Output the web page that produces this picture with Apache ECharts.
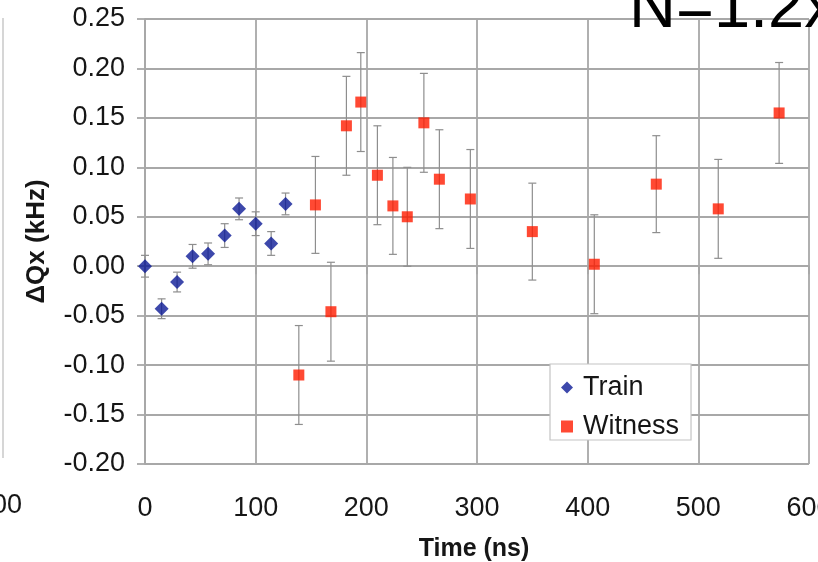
<!DOCTYPE html>
<html>
<head>
<meta charset="utf-8">
<script src="https://cdn.jsdelivr.net/npm/echarts@6/dist/echarts.min.js"></script>
<style>
  html, body { margin: 0; padding: 0; background: #ffffff; }
  #chart { width: 818px; height: 562px; }
</style>
</head>
<body>
<div id="chart"></div>
<script>
// Tune shift measurements: bunch-train and witness bunch
const trainTime  = [0, 15, 29, 43, 57, 72, 85, 100, 114, 127];
const trainShift = [0.000, -0.043, -0.016, 0.010, 0.0125, 0.031, 0.058, 0.043, 0.023, 0.063];
const trainErr   = [0.011, 0.010, 0.010, 0.012, 0.011, 0.012, 0.011, 0.012, 0.012, 0.011];

const witnessTime  = [139, 154, 168, 182, 195, 210, 224, 237, 252, 266, 294, 350, 406, 462, 518, 573];
const witnessShift = [-0.110, 0.062, -0.046, 0.142, 0.166, 0.092, 0.061, 0.050, 0.145, 0.088, 0.068, 0.035, 0.002, 0.083, 0.058, 0.155];
const witnessErr   = [0.050, 0.049, 0.050, 0.050, 0.050, 0.050, 0.049, 0.050, 0.050, 0.050, 0.050, 0.049, 0.050, 0.049, 0.050, 0.051];

const timeTicks = [0, 100, 200, 300, 400, 500, 600];
const shiftTicks = [-0.20, -0.15, -0.10, -0.05, 0.00, 0.05, 0.10, 0.15, 0.20, 0.25];

const FONT = '"Liberation Sans", Arial, sans-serif';
const GRID_COLOR = '#a8a8a8';
const TEXT_COLOR = '#161616';

function points(xs, ys) { return xs.map((x, i) => [x, ys[i]]); }
function bars(xs, ys, es) { return xs.map((x, i) => [x, ys[i] - es[i], ys[i] + es[i]]); }

// vertical error bar with short caps
function renderErrorBar(params, api) {
  const lo = api.coord([api.value(0), api.value(1)]);
  const hi = api.coord([api.value(0), api.value(2)]);
  const half = 4;
  const style = { stroke: '#8e8e8e', lineWidth: 1.2 };
  return {
    type: 'group',
    children: [
      { type: 'line', shape: { x1: lo[0], y1: lo[1], x2: hi[0], y2: hi[1] }, style },
      { type: 'line', shape: { x1: lo[0] - half, y1: lo[1], x2: lo[0] + half, y2: lo[1] }, style },
      { type: 'line', shape: { x1: hi[0] - half, y1: hi[1], x2: hi[0] + half, y2: hi[1] }, style }
    ]
  };
}

const chart = echarts.init(document.getElementById('chart'), null, { renderer: 'canvas' });

chart.setOption({
  animation: false,
  backgroundColor: '#ffffff',
  grid: { left: 145, right: 9, top: 19, bottom: 98, containLabel: false, outerBoundsMode: 'none' },
  xAxis: {
    type: 'value',
    min: timeTicks[0],
    max: timeTicks[timeTicks.length - 1],
    interval: timeTicks[1] - timeTicks[0],
    name: 'Time (ns)',
    nameLocation: 'middle',
    nameGap: 73,
    nameTextStyle: { fontFamily: FONT, fontSize: 25, fontWeight: 'bold', color: TEXT_COLOR, padding: [0, 6, 0, 0] },
    axisLine: { show: true, lineStyle: { color: GRID_COLOR, width: 1.8 } },
    axisTick: { show: true, inside: false, length: 8, lineStyle: { color: GRID_COLOR, width: 1.8 } },
    axisLabel: { fontFamily: FONT, fontSize: 27, color: TEXT_COLOR, margin: 31 },
    splitLine: { show: true, lineStyle: { color: GRID_COLOR, width: 1.8 } }
  },
  yAxis: {
    type: 'value',
    min: shiftTicks[0],
    max: shiftTicks[shiftTicks.length - 1],
    interval: 0.05,
    name: 'ΔQx (kHz)',
    nameLocation: 'middle',
    nameRotate: 90,
    nameGap: 95,
    nameTextStyle: { fontFamily: FONT, fontSize: 26, fontWeight: 'bold', color: TEXT_COLOR },
    axisLine: { show: true, lineStyle: { color: GRID_COLOR, width: 1.8 } },
    axisTick: { show: true, inside: false, length: 8, lineStyle: { color: GRID_COLOR, width: 1.8 } },
    axisLabel: {
      fontFamily: FONT, fontSize: 27, color: TEXT_COLOR, margin: 20,
      formatter: v => v.toFixed(2)
    },
    splitLine: { show: true, lineStyle: { color: GRID_COLOR, width: 1.8 } }
  },
  legend: {
    orient: 'vertical',
    left: 550,
    top: 364,
    backgroundColor: '#ffffff',
    borderColor: '#c4c4c4',
    borderWidth: 1.2,
    padding: [10, 12, 0, 11],
    itemGap: 12,
    itemWidth: 12,
    itemHeight: 12,
    textStyle: { fontFamily: FONT, fontSize: 27, color: TEXT_COLOR, padding: [0, 0, 0, 5] },
    data: [
      { name: 'Train', icon: 'diamond' },
      { name: 'Witness', icon: 'rect' }
    ]
  },
  series: [
    {
      name: 'Train error',
      type: 'custom',
      renderItem: renderErrorBar,
      data: bars(trainTime, trainShift, trainErr),
      encode: { x: 0, y: [1, 2] },
      z: 1,
      silent: true
    },
    {
      name: 'Witness error',
      type: 'custom',
      renderItem: renderErrorBar,
      data: bars(witnessTime, witnessShift, witnessErr),
      encode: { x: 0, y: [1, 2] },
      z: 1,
      silent: true
    },
    {
      name: 'Train',
      type: 'scatter',
      symbol: 'diamond',
      symbolSize: 14,
      itemStyle: { color: '#0d1a96' },
      data: points(trainTime, trainShift),
      z: 3
    },
    {
      name: 'Witness',
      type: 'scatter',
      symbol: 'rect',
      symbolSize: 11,
      itemStyle: { color: '#ff1c00' },
      data: points(witnessTime, witnessShift),
      z: 3
    }
  ],
  graphic: [
    // edge of the neighbouring panel
    { type: 'line', shape: { x1: 3, y1: 18, x2: 3, y2: 458 }, style: { stroke: '#c8c8c8', lineWidth: 1.5 }, silent: true },
    { type: 'text', x: -8, y: 506, style: { text: '00', font: '27px ' + FONT, fill: TEXT_COLOR, verticalAlign: 'middle' }, silent: true },
    // beam intensity annotation
    { type: 'text', x: 629, y: 9, style: { text: 'N=1.2x10', font: '65px ' + FONT, fill: '#000000', verticalAlign: 'middle' }, silent: true, z: 10 }
  ]
});
</script>
</body>
</html>
